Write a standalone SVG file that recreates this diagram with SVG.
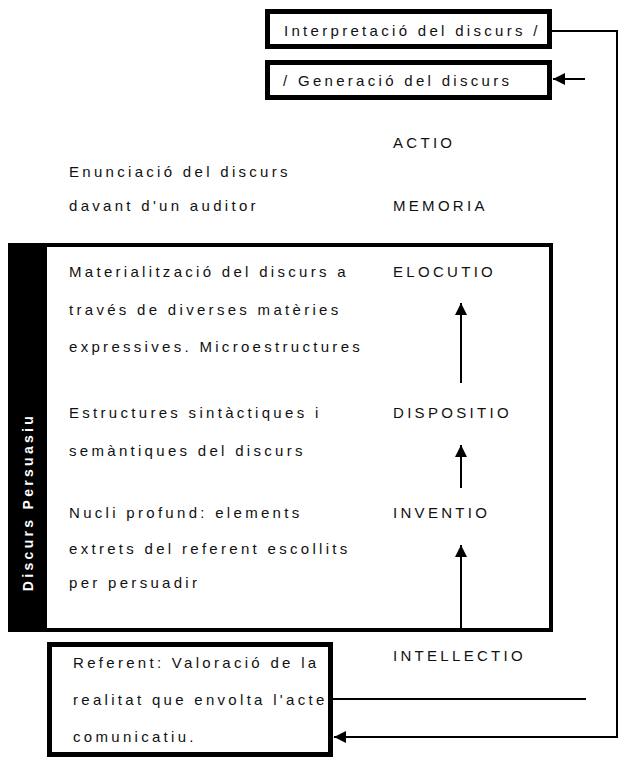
<svg xmlns="http://www.w3.org/2000/svg" width="619" height="758" viewBox="0 0 619 758">
<style>
  text { font-family: "Liberation Sans", Arial, sans-serif; font-size: 15px; letter-spacing: 3.3px; fill: #111; }
  .box { fill: #fff; stroke: #000; stroke-width: 5; }
  .main { fill: #fff; stroke: #000; stroke-width: 4; }
  .conn { fill: none; stroke: #000; stroke-width: 2; }
  .vlabel { font-weight: bold; font-size: 14px; letter-spacing: 3.3px; fill: #fff; }
</style>
<defs>
  <marker id="arr" viewBox="0 0 10 10" refX="10" refY="5" markerWidth="6" markerHeight="6" markerUnits="strokeWidth" orient="auto">
    <path d="M0,0 L10,5 L0,10 Z" fill="#000"/>
  </marker>
</defs>
<rect width="619" height="758" fill="#fff"/>

<g id="interpretacio">
  <rect class="box" x="267.5" y="11.5" width="282" height="35"/>
  <text x="284" y="36">Interpretació del discurs /</text>
</g>
<g id="generacio">
  <rect class="box" x="267.5" y="62.5" width="282" height="35"/>
  <text x="283" y="86">/ Generació del discurs</text>
</g>

<g id="actio"><text x="393" y="148">ACTIO</text></g>
<g id="enunciacio">
  <text x="69" y="177">Enunciació del discurs</text>
  <text x="69" y="211">davant d'un auditor</text>
</g>
<g id="memoria"><text x="393" y="211">MEMORIA</text></g>

<g id="discurs-persuasiu">
  <rect class="main" x="10" y="245" width="541" height="385"/>
  <rect x="9" y="243" width="38" height="389" fill="#000"/>
  <text class="vlabel" transform="translate(33,502) rotate(-90)" text-anchor="middle">Discurs Persuasiu</text>
</g>

<g id="materialitzacio">
  <text x="69" y="277">Materialització del discurs a</text>
  <text x="69" y="315">través de diverses matèries</text>
  <text x="69" y="352">expressives. Microestructures</text>
</g>
<g id="elocutio"><text x="393" y="277">ELOCUTIO</text></g>

<g id="estructures">
  <text x="69" y="418">Estructures sintàctiques i</text>
  <text x="69" y="456">semàntiques del discurs</text>
</g>
<g id="dispositio"><text x="393" y="418">DISPOSITIO</text></g>

<g id="nucli">
  <text x="69" y="518">Nucli profund: elements</text>
  <text x="69" y="554">extrets del referent escollits</text>
  <text x="69" y="588">per persuadir</text>
</g>
<g id="inventio"><text x="393" y="518">INVENTIO</text></g>

<g id="intellectio"><text x="393" y="661">INTELLECTIO</text></g>

<g id="referent">
  <rect class="box" x="49.5" y="644.5" width="281" height="110"/>
  <text x="73" y="668">Referent: Valoració de la</text>
  <text x="73" y="705">realitat que envolta l'acte</text>
  <text x="73" y="742">comunicatiu.</text>
</g>

<g id="connectors">
  <polyline class="conn" points="552,31 617,31 617,737 334,737" marker-end="url(#arr)"/>
  <line class="conn" x1="333" y1="699" x2="586" y2="699"/>
  <line class="conn" x1="585" y1="79" x2="553" y2="79" marker-end="url(#arr)"/>
  <line class="conn" x1="461" y1="383" x2="461" y2="303" marker-end="url(#arr)"/>
  <line class="conn" x1="461" y1="488" x2="461" y2="445" marker-end="url(#arr)"/>
  <line class="conn" x1="461" y1="628" x2="461" y2="545" marker-end="url(#arr)"/>
</g>
</svg>
